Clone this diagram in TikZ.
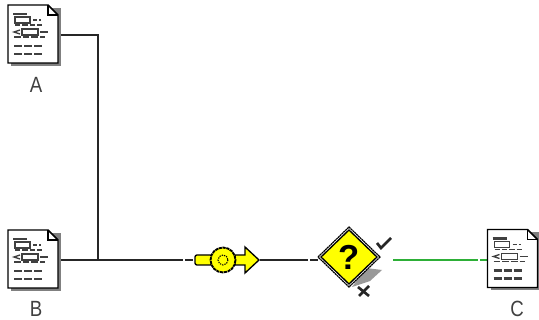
\documentclass[tikz,border=0pt]{standalone}
\usepackage{fontspec}
\setmainfont{Liberation Sans}
\usepackage{tikz}
\usetikzlibrary{positioning,calc}
\definecolor{flowgreen}{RGB}{45,175,55}
\definecolor{iconyellow}{RGB}{255,255,0}
\newcommand{\tallab}[1]{\scalebox{1}[1.18]{#1}}
\tikzset{
  docbox/.style={minimum width=37.5pt,minimum height=43.5pt,inner sep=0pt,outer sep=0pt},
  doclabel/.style={font=\fontsize{14}{14}\selectfont,text=black!75,inner sep=0pt},
  flow/.style={line width=1pt,black!85},
  okflow/.style={line width=1pt,flowgreen},
  iconline/.style={line width=1pt,black,fill=iconyellow},
  mark line/.style={line width=2pt,black!85},
  pics/docicon/.style={code={
    \fill[black!50] (-22,-26) -- (28,-26) -- (28,32) -- (-22,32) -- cycle;
    \draw[line width=1.1pt,fill=white] (-25,-29) -- (15,-29) -- (25,-19) -- (25,29) -- (-25,29) -- cycle;
    \draw[line width=0.8pt] (15,-29) -- (15,-19) -- (25,-19);
    \draw[line width=1.6pt,black!75] (-20,-20) -- (-6,-20);
    \draw[line width=1pt,black!75] (-18,-17) rectangle (-3,-11);
    \draw[line width=1.4pt,black!75,dash pattern=on 3pt off 1.5pt] (0,-14) -- (8,-14);
    \draw[line width=1.4pt,black!75,dash pattern=on 4pt off 1.5pt] (-18,-9) -- (10,-9);
    \draw[line width=1pt,black!75] (-13,-4) -- (-19,-2) -- (-13,0);
    \draw[line width=1pt,black!75] (-11,-5) rectangle (5,1);
    \draw[line width=1.4pt,black!75] (7,-2) -- (15,-2);
    \draw[line width=1.4pt,black!75,dash pattern=on 5pt off 1.5pt] (-19,3) -- (12,3);
    \draw[line width=1.6pt,black!75,dash pattern=on 6pt off 1.5pt] (-19,12) -- (10,12);
    \draw[line width=1.6pt,black!75,dash pattern=on 6pt off 1.5pt] (-19,20) -- (11,20);
  }},
}
\begin{document}
\begin{tikzpicture}[x=0.75pt,y=-0.75pt]
      \useasboundingbox (0,0) rectangle (539,320);

      \coordinate (DA) at (33,34);
      \coordinate (DB) at (33,259);
      \coordinate (DC) at (512.5,258.5);
      \coordinate (V) at (223,260);
      \coordinate (Q) at (349,257);
      \coordinate (join) at (98,260);
      \coordinate (bend) at (98,35);

      % connectors first, icons go over them
      \node[docbox] (docA) at (DA) {};
      \node[docbox] (docB) at (DB) {};
      \node[docbox] (docC) at (DC) {};
      \node[inner sep=0pt,minimum width=49.5pt,minimum height=21pt] (valve) at (226.5,260) {};
      \node[inner sep=0pt,minimum width=46.5pt,minimum height=45pt] (check) at (Q) {};

      \coordinate (gapB) at (183,260);
      \coordinate (gapC) at (185,260);
      \coordinate (gapD) at (308,260);
      \coordinate (gapE) at (310,260);
      \coordinate (okA) at (393,260);
      \coordinate (okB) at (478,260);
      \coordinate (okC) at (480,260);

      \draw[flow] (docA.east |- bend) -- (bend) -- (join);
      \draw[flow] (docB.east |- join) -- (gapB);
      \draw[flow] (gapC) -- (valve.west);
      \draw[flow] (valve.east) -- (gapD);
      \draw[flow] (gapE) -- (check.west |- gapE);
      \draw[okflow] (okA) -- (okB);
      \draw[okflow] (okC) -- (docC.west |- okC);

      \pic at (DA) {docicon};
      \pic at (DB) {docicon};
      \pic at (DC) {docicon};

      \node[doclabel] (labA) at (36,85) {\tallab{A}};
      \node[doclabel] (labB) at (36,308.5) {\tallab{B}};
      \node[doclabel] (labC) at (517,308.5) {\tallab{C}};

      % valve
      \draw[iconline,rounded corners=1.5pt] (195,255) -- (212,255) -- (212,265) -- (195,265) -- cycle;
      \draw[iconline] (235,255) -- (245,255) -- (245,247) -- (259,260) -- (245,273) -- (245,265) -- (235,265) -- cycle;
      \draw[line width=1.4pt,fill=iconyellow,dash pattern=on 2.4pt off 0.5pt] (V) circle (12.5);
      \draw[line width=0.8pt,dash pattern=on 1pt off 0.8pt] (V) circle (5);

      % decision
      \fill[black!40] (382,270) -- (370,281) -- (352,287) -- (366,268) -- cycle;
      \draw[line width=0.9pt,fill=white,dash pattern=on 1.5pt off 0.4pt] ($(Q)+(-31,0)$) -- ($(Q)+(0,-30)$) -- ($(Q)+(31,0)$) -- ($(Q)+(0,30)$) -- cycle;
      \draw[line width=1pt,fill=iconyellow] ($(Q)+(-28,0)$) -- ($(Q)+(0,-27)$) -- ($(Q)+(28,0)$) -- ($(Q)+(0,27)$) -- cycle;
      \node[font=\fontsize{26}{26}\selectfont\bfseries,inner sep=0pt] (qmark) at (Q) {?};

      % outcome marks
      \draw[mark line] (377,243) -- (381,248) -- (391,238);
      \draw[mark line] (358,287) -- (369,296);
      \draw[mark line] (369,286) -- (359,296);

\end{tikzpicture}
\end{document}
